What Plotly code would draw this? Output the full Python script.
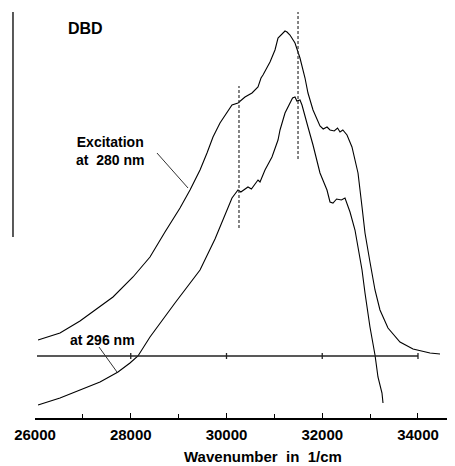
import plotly.graph_objects as go

# Excitation spectra of DBD (arbitrary intensity units)
wn_280 = [26063, 26522, 26940, 27629, 28047, 28402, 28715, 29029, 29238, 29447,
          29593, 29718, 29864, 30011, 30115, 30240, 30386, 30533, 30658, 30721,
          30762, 30909, 31013, 31076, 31180, 31222, 31264, 31326, 31431, 31535,
          31640, 31702, 31807, 31953, 32020, 32100, 32162, 32250, 32320, 32371,
          32430, 32517, 32621, 32747, 32831, 32893, 32997, 33102, 33206, 33373,
          33624, 33896, 34251, 34460]
int_280 = [78, 85, 97, 121, 141, 161, 186, 210, 228, 248,
           265, 281, 295, 306, 313, 315, 321, 325, 331, 340,
           343, 356, 368, 380, 385, 387, 386, 383, 375, 360,
           340, 325, 308, 292, 289, 291, 288, 287, 290, 286,
           288, 283, 271, 245, 211, 185, 156, 128, 108, 90,
           76, 69, 65, 64]

wn_296 = [26063, 26522, 26940, 27358, 27734, 27984, 28151, 28402, 28924, 29447,
          29760, 29927, 30115, 30240, 30300, 30449, 30520, 30658, 30700, 30804,
          30950, 31076, 31118, 31222, 31326, 31380, 31431, 31470, 31535, 31577,
          31702, 31807, 31953, 32099, 32162, 32224, 32300, 32400, 32475, 32580,
          32684, 32788, 32831, 32893, 32997, 33102, 33164, 33248, 33269]
int_296 = [13, 20, 28, 36, 46, 55, 62, 81, 115, 148,
           179, 198, 220, 228, 226, 231, 229, 238, 236, 248,
           261, 278, 288, 305, 315, 320, 321, 317, 318, 313,
           291, 273, 245, 228, 216, 215, 219, 218, 220, 206,
           188, 158, 148, 125, 91, 63, 41, 25, 15]

# reference baseline and marker lines
baseline_level = 62
baseline_range = [26042, 34000]
baseline_ticks = [28000, 30000, 32000, 34000]
marker1_wn, marker1_span = 30261, [190, 332]
marker2_wn, marker2_span = 31494, [259, 406]

tick_vals = [26000, 28000, 30000, 32000, 34000]
tick_text = ["26000", "28000", "30000", "32000", "34000"]

FONT = "Liberation Sans, Arial, sans-serif"
fig = go.Figure()

fig.add_trace(go.Scatter(x=wn_280, y=int_280, mode="lines",
                         line=dict(color="black", width=1.1), hoverinfo="skip"))
fig.add_trace(go.Scatter(x=wn_296, y=int_296, mode="lines",
                         line=dict(color="black", width=1.1), hoverinfo="skip"))

# baseline with ticks
fig.add_trace(go.Scatter(x=baseline_range, y=[baseline_level, baseline_level], mode="lines",
                         line=dict(color="#222", width=1.6), hoverinfo="skip"))
tx, ty = [], []
for t in baseline_ticks:
    tx += [t, t, None]
    ty += [baseline_level - 3, baseline_level + 3, None]
fig.add_trace(go.Scatter(x=tx, y=ty, mode="lines", line=dict(color="#222", width=1.3),
                         hoverinfo="skip"))

# dashed marker lines
for xv, span in [(marker1_wn, marker1_span), (marker2_wn, marker2_span)]:
    fig.add_trace(go.Scatter(x=[xv, xv], y=span, mode="lines",
                             line=dict(color="#333", width=1.2, dash="3px,2px"),
                             hoverinfo="skip"))

# pointer lines for labels
fig.add_trace(go.Scatter(x=[28548, 29196], y=[265, 230], mode="lines",
                         line=dict(color="#333", width=1), hoverinfo="skip"))
fig.add_trace(go.Scatter(x=[27337, 27713], y=[71, 46], mode="lines",
                         line=dict(color="#333", width=1), hoverinfo="skip"))

# left vertical bar
fig.add_shape(type="line", xref="paper", yref="paper", x0=-0.0524, x1=-0.0524,
              y0=0.446, y1=1.0, line=dict(color="black", width=1.3))

fig.add_annotation(x=27065, y=390, text="<b>DBD</b>", showarrow=False,
                   font=dict(family=FONT, size=16, color="black"))
fig.add_annotation(x=27567, y=267, text="<b>Excitation<br>at  280 nm</b>", showarrow=False,
                   font=dict(family=FONT, size=14, color="black"), align="center")
fig.add_annotation(x=27420, y=78, text="<b>at 296 nm</b>", showarrow=False,
                   font=dict(family=FONT, size=14, color="black"))
fig.add_annotation(x=30762, y=-0.094, yref="paper", yanchor="middle",
                   text="<b>Wavenumber  in  1/cm</b>",
                   showarrow=False, font=dict(family=FONT, size=15, color="black"))

# page body has an 8px margin: compensate so the plot area lands at 35..455 x 12..418
fig.update_layout(
    width=447, height=458,
    margin=dict(l=27, r=0, t=4, b=48),
    paper_bgcolor="white", plot_bgcolor="white",
    showlegend=False,
    xaxis=dict(range=[26000, 34773], showgrid=False, zeroline=False,
               showline=True, linecolor="black", linewidth=1.5,
               ticks="inside", ticklen=5, tickwidth=1.3, tickcolor="black",
               tickvals=tick_vals, ticktext=tick_text, ticklabelstandoff=2,
               tickfont=dict(family=FONT, size=15, color="black", weight="bold"),
               minor=dict(dtick=1000, tick0=26000, ticks="inside", ticklen=4,
                          tickcolor="black", tickwidth=1.2)),
    yaxis=dict(range=[0, 406], visible=False),
)

fig.write_html("out.html")
